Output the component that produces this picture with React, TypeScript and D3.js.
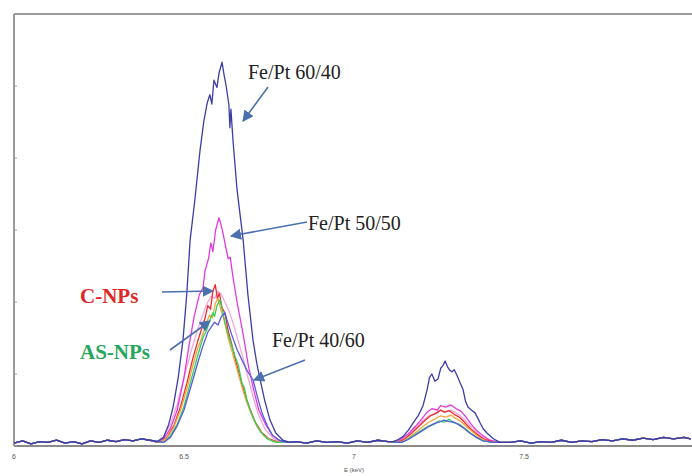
import React from "react";
import * as d3 from "d3";

type Pt = [number, number];

const xTicks = [6, 6.5, 7, 7.5];
const xTickLabels = ["6", "6.5", "7", "7.5"];
const yTicks = [0, 1, 2, 3, 4, 5, 6];
const xTitle = "E (keV)";

const baseNoise: Pt[] = [
  [6.0, 0.04], [6.025, 0.07], [6.05, 0.03], [6.075, 0.06], [6.1, 0.05], [6.125, 0.08], [6.15, 0.04],
  [6.175, 0.06], [6.2, 0.03], [6.225, 0.07], [6.25, 0.05], [6.275, 0.08], [6.3, 0.06], [6.325, 0.09],
  [6.35, 0.07], [6.375, 0.1], [6.4, 0.08],
  [6.83, 0.06], [6.86, 0.04], [6.89, 0.07], [6.92, 0.05], [6.95, 0.06], [6.98, 0.04], [7.01, 0.07],
  [7.04, 0.05], [7.07, 0.08], [7.1, 0.06],
  [7.46, 0.05], [7.49, 0.07], [7.52, 0.04], [7.55, 0.06], [7.58, 0.05], [7.61, 0.08], [7.64, 0.05],
  [7.67, 0.07], [7.7, 0.06], [7.73, 0.09], [7.76, 0.07], [7.79, 0.1], [7.82, 0.08], [7.85, 0.11],
  [7.88, 0.09], [7.91, 0.12], [7.94, 0.1], [7.97, 0.12], [7.99, 0.1],
];

// Fe/Pt 60/40
const fept6040Main: Pt[] = [
  [6.42, 0.06], [6.44, 0.12], [6.455, 0.3], [6.468, 0.54], [6.483, 0.95], [6.497, 1.47], [6.508, 2.1],
  [6.518, 2.86], [6.532, 3.42], [6.547, 4.1], [6.558, 4.5], [6.568, 4.76], [6.576, 4.88], [6.582, 4.75],
  [6.588, 5.08], [6.597, 4.98], [6.603, 5.18], [6.612, 5.33], [6.618, 5.15], [6.624, 5.0], [6.632, 4.74],
  [6.635, 4.42], [6.638, 4.68], [6.644, 4.25], [6.656, 3.56], [6.674, 2.86], [6.688, 2.1], [6.703, 1.47],
  [6.714, 1.15], [6.724, 0.92], [6.738, 0.62], [6.753, 0.36], [6.77, 0.18], [6.791, 0.08], [6.81, 0.05],
];
const fept6040Second: Pt[] = [
  [7.115, 0.06], [7.13, 0.09], [7.144, 0.13], [7.16, 0.22], [7.174, 0.32], [7.19, 0.43], [7.203, 0.56],
  [7.215, 0.78], [7.222, 0.95], [7.229, 1.0], [7.238, 0.9], [7.247, 0.93], [7.255, 1.08], [7.262, 1.12],
  [7.268, 1.18], [7.275, 1.1], [7.282, 1.05], [7.288, 1.03], [7.295, 1.06], [7.303, 0.98], [7.312, 0.88],
  [7.321, 0.78], [7.328, 0.62], [7.335, 0.54], [7.345, 0.5], [7.356, 0.46], [7.365, 0.38], [7.371, 0.32],
  [7.38, 0.24], [7.391, 0.18], [7.41, 0.1], [7.429, 0.05],
];

// Fe/Pt 50/50
const fept5050Main: Pt[] = [
  [6.42, 0.05], [6.44, 0.1], [6.46, 0.24], [6.48, 0.5], [6.5, 0.95], [6.515, 1.4], [6.53, 1.8],
  [6.545, 2.1], [6.556, 2.2], [6.562, 2.44], [6.572, 2.6], [6.579, 2.82], [6.585, 2.7], [6.593, 3.0],
  [6.603, 3.17], [6.61, 3.05], [6.615, 2.95], [6.622, 2.78], [6.63, 2.6], [6.636, 2.62], [6.644, 2.35],
  [6.656, 2.0], [6.674, 1.55], [6.69, 1.1], [6.705, 0.78], [6.72, 0.5], [6.74, 0.3], [6.76, 0.15],
  [6.78, 0.08], [6.8, 0.05],
];
const fept5050Second: Pt[] = [
  [7.12, 0.05], [7.14, 0.1], [7.16, 0.17], [7.18, 0.27], [7.2, 0.38], [7.215, 0.47], [7.23, 0.52],
  [7.245, 0.5], [7.255, 0.56], [7.27, 0.54], [7.285, 0.57], [7.3, 0.52], [7.315, 0.48], [7.33, 0.4],
  [7.345, 0.3], [7.36, 0.22], [7.38, 0.14], [7.4, 0.08], [7.43, 0.05],
];

// light pink sample
const pinkMain: Pt[] = [
  [6.42, 0.05], [6.44, 0.13], [6.46, 0.3], [6.48, 0.58], [6.5, 0.95], [6.52, 1.3], [6.54, 1.62],
  [6.555, 1.82], [6.568, 1.98], [6.58, 2.08], [6.59, 2.05], [6.6, 2.15], [6.61, 2.1], [6.62, 2.0],
  [6.632, 1.88], [6.645, 1.7], [6.66, 1.45], [6.675, 1.2], [6.69, 0.92], [6.705, 0.65], [6.72, 0.42],
  [6.74, 0.22], [6.765, 0.1], [6.79, 0.05],
];
const pinkSecond: Pt[] = [
  [7.12, 0.05], [7.14, 0.09], [7.16, 0.16], [7.18, 0.25], [7.2, 0.34], [7.22, 0.42], [7.24, 0.46],
  [7.255, 0.49], [7.27, 0.47], [7.285, 0.5], [7.3, 0.46], [7.315, 0.41], [7.33, 0.34], [7.35, 0.24],
  [7.37, 0.15], [7.39, 0.09], [7.42, 0.05],
];

// C-NPs
const cnpsMain: Pt[] = [
  [6.43, 0.05], [6.45, 0.12], [6.47, 0.28], [6.49, 0.55], [6.51, 0.9], [6.525, 1.2], [6.54, 1.45],
  [6.55, 1.6], [6.562, 1.78], [6.57, 1.95], [6.578, 1.9], [6.585, 2.15], [6.592, 2.24], [6.598, 2.05],
  [6.604, 2.12], [6.612, 1.92], [6.62, 1.85], [6.63, 1.6], [6.64, 1.42], [6.652, 1.18], [6.665, 0.95],
  [6.68, 0.7], [6.695, 0.5], [6.71, 0.33], [6.73, 0.18], [6.75, 0.1], [6.78, 0.05],
];
const cnpsSecond: Pt[] = [
  [7.13, 0.05], [7.15, 0.1], [7.17, 0.18], [7.19, 0.27], [7.21, 0.36], [7.225, 0.42], [7.24, 0.45],
  [7.255, 0.5], [7.265, 0.47], [7.28, 0.49], [7.295, 0.44], [7.31, 0.4], [7.325, 0.33], [7.34, 0.25],
  [7.36, 0.17], [7.38, 0.1], [7.41, 0.05],
];

// orange sample
const orangeMain: Pt[] = [
  [6.43, 0.05], [6.45, 0.11], [6.47, 0.26], [6.49, 0.5], [6.51, 0.82], [6.525, 1.1], [6.54, 1.35],
  [6.552, 1.5], [6.564, 1.68], [6.575, 1.82], [6.584, 1.78], [6.592, 1.98], [6.6, 2.05], [6.608, 1.9],
  [6.618, 1.75], [6.63, 1.5], [6.642, 1.3], [6.655, 1.08], [6.668, 0.86], [6.682, 0.64], [6.698, 0.44],
  [6.715, 0.27], [6.735, 0.14], [6.76, 0.07], [6.78, 0.05],
];
const orangeSecond: Pt[] = [
  [7.14, 0.05], [7.16, 0.11], [7.18, 0.18], [7.2, 0.26], [7.22, 0.33], [7.24, 0.38], [7.255, 0.42],
  [7.27, 0.4], [7.285, 0.43], [7.3, 0.38], [7.315, 0.34], [7.33, 0.27], [7.35, 0.19], [7.37, 0.11],
  [7.4, 0.05],
];

// AS-NPs
const asnpsMain: Pt[] = [
  [6.44, 0.05], [6.46, 0.14], [6.48, 0.3], [6.5, 0.55], [6.52, 0.9], [6.54, 1.25], [6.556, 1.51],
  [6.566, 1.6], [6.576, 1.75], [6.585, 1.85], [6.59, 1.8], [6.597, 1.95], [6.606, 2.03], [6.612, 1.9],
  [6.62, 1.72], [6.63, 1.55], [6.64, 1.4], [6.65, 1.25], [6.66, 1.12], [6.67, 0.88], [6.678, 0.8],
  [6.685, 0.64], [6.695, 0.5], [6.71, 0.32], [6.725, 0.2], [6.745, 0.1], [6.77, 0.05],
];
const asnpsSecond: Pt[] = [
  [7.14, 0.05], [7.16, 0.1], [7.18, 0.16], [7.2, 0.22], [7.22, 0.28], [7.235, 0.3], [7.25, 0.35],
  [7.265, 0.33], [7.28, 0.37], [7.295, 0.32], [7.31, 0.3], [7.325, 0.25], [7.34, 0.19], [7.36, 0.12],
  [7.38, 0.07], [7.41, 0.05],
];

// Fe/Pt 40/60
const fept4060Main: Pt[] = [
  [6.44, 0.05], [6.46, 0.12], [6.48, 0.28], [6.5, 0.5], [6.52, 0.82], [6.54, 1.15], [6.555, 1.38],
  [6.57, 1.58], [6.58, 1.65], [6.59, 1.72], [6.6, 1.68], [6.61, 1.8], [6.62, 1.85], [6.63, 1.7],
  [6.64, 1.55], [6.655, 1.35], [6.67, 1.2], [6.685, 1.05], [6.703, 0.92], [6.715, 0.7], [6.73, 0.45],
  [6.745, 0.28], [6.76, 0.15], [6.78, 0.08], [6.8, 0.05],
];
const fept4060Second: Pt[] = [
  [7.14, 0.05], [7.16, 0.09], [7.18, 0.15], [7.2, 0.21], [7.22, 0.27], [7.235, 0.31], [7.25, 0.33],
  [7.265, 0.36], [7.28, 0.34], [7.295, 0.33], [7.31, 0.29], [7.325, 0.24], [7.34, 0.18], [7.36, 0.12],
  [7.38, 0.07], [7.41, 0.05],
];

const seriesNames = ["pink", "Fe/Pt 50/50", "C-NPs", "orange", "AS-NPs", "Fe/Pt 40/60", "Fe/Pt 60/40"];
const seriesParts: [Pt[], Pt[]][] = [
  [pinkMain, pinkSecond],
  [fept5050Main, fept5050Second],
  [cnpsMain, cnpsSecond],
  [orangeMain, orangeSecond],
  [asnpsMain, asnpsSecond],
  [fept4060Main, fept4060Second],
  [fept6040Main, fept6040Second],
];
const seriesColors = ["#f3a6dd", "#e23be0", "#f02a2a", "#f2a640", "#2fd25a", "#5a5ae0", "#3c3ca8"];

function combine(main: Pt[], second: Pt[]): Pt[] {
  const m0 = main[0][0], m1 = main[main.length - 1][0];
  const s0 = second[0][0], s1 = second[second.length - 1][0];
  const base = baseNoise.filter(([x]) => x < m0 || (x > m1 && x < s0) || x > s1);
  return [...base, ...main, ...second].sort((a, b) => a[0] - b[0]);
}

export default function App() {
  const W = 692, H = 476;
  const left = 14, top = 14, bottom = 446, right = 694;
  const x = d3.scaleLinear().domain([6, 8]).range([left, right]);
  const y = d3.scaleLinear().domain([0, 6]).range([bottom, top]);
  const line = d3.line<Pt>().x((d) => x(d[0])).y((d) => y(d[1]));
  const serif = "Liberation Serif";
  const arrowColor = "#4a70ad";

  const arrows: [number, number, number, number][] = [
    [268, 87, 243, 121],
    [307, 222, 231, 236],
    [162, 292, 213, 291],
    [170, 350, 210, 321],
    [305, 360, 254, 380],
  ];

  return (
    <svg width={W} height={H} style={{ position: "absolute", left: 0, top: 0, background: "#fff" }}>
      <defs>
        <marker id="ah" viewBox="0 0 10 10" refX="9" refY="5" markerWidth="7" markerHeight="7" orient="auto">
          <path d="M0,0 L10,5 L0,10 z" fill={arrowColor} />
        </marker>
      </defs>
      <rect x={0} y={0} width={W} height={H} fill="#fff" />
      <line x1={left} y1={top} x2={W} y2={top} stroke="#9a9a9a" strokeWidth={2} />
      <line x1={left} y1={top} x2={left} y2={bottom} stroke="#9a9a9a" strokeWidth={2} />
      <line x1={left} y1={bottom} x2={W} y2={bottom} stroke="#8a8a8a" strokeWidth={2} />
      {yTicks.map((t) => (
        <line key={t} x1={left} x2={left + 3} y1={y(t)} y2={y(t)} stroke="#9a9a9a" strokeWidth={1} />
      ))}
      {xTicks.map((t, i) => (
        <text key={t} x={x(t)} y={459} fontSize={7} fill="#555" textAnchor="middle" fontFamily="Liberation Sans">
          {xTickLabels[i]}
        </text>
      ))}
      <text x={x(7)} y={472} fontSize={6} fill="#555" textAnchor="middle" fontFamily="Liberation Sans">
        {xTitle}
      </text>
      {seriesParts.map(([m, s], i) => (
        <path key={seriesNames[i]} d={line(combine(m, s)) || ""} fill="none" stroke={seriesColors[i]} strokeWidth={1.3} strokeLinejoin="round" />
      ))}
      {arrows.map(([x1, y1, x2, y2], i) => (
        <line key={i} x1={x1} y1={y1} x2={x2} y2={y2} stroke={arrowColor} strokeWidth={1.6} markerEnd="url(#ah)" />
      ))}
      <text x={248} y={79} fontSize={20} fontFamily={serif} fill="#222">Fe/Pt 60/40</text>
      <text x={308} y={230} fontSize={20} fontFamily={serif} fill="#222">Fe/Pt 50/50</text>
      <text x={272} y={347} fontSize={20} fontFamily={serif} fill="#222">Fe/Pt 40/60</text>
      <text x={80} y={303} fontSize={21} fontWeight="bold" fontFamily={serif} fill="#e02626">C-NPs</text>
      <text x={80} y={359} fontSize={21} fontWeight="bold" fontFamily={serif} fill="#25a65a">AS-NPs</text>
    </svg>
  );
}
